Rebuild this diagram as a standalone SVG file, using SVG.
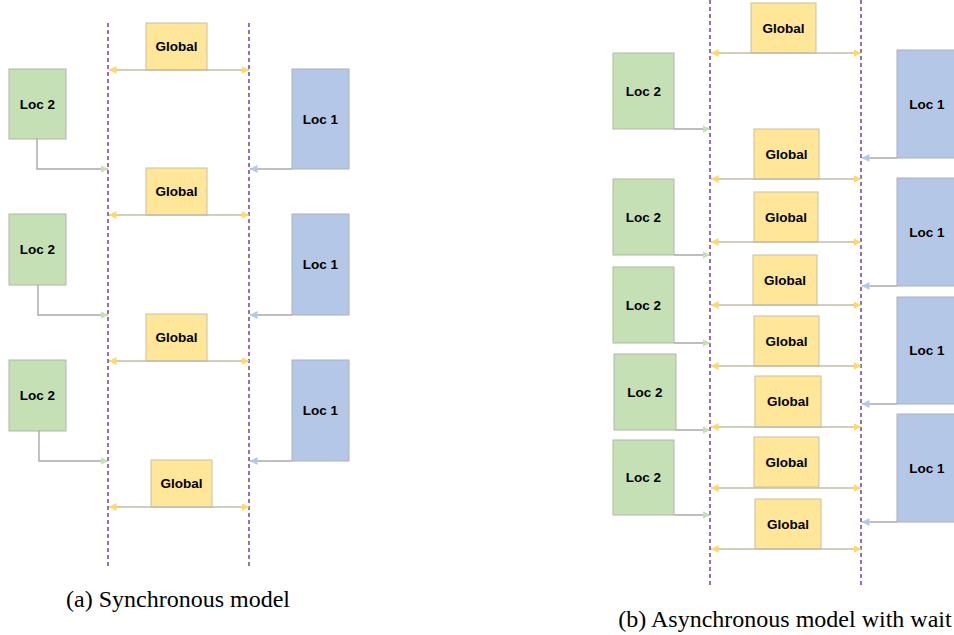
<svg xmlns="http://www.w3.org/2000/svg" width="954" height="635" viewBox="0 0 954 635">
<style>
.g{fill:#ffe699;stroke:#c9c0a0;stroke-width:1}
.l2{fill:#c5e0b4;stroke:#b0b8a8;stroke-width:1}
.l1{fill:#b4c7e7;stroke:#a8b0c0;stroke-width:1}
.t{font-family:"Liberation Sans",Arial,sans-serif;font-weight:bold;font-size:13.5px;fill:#000;text-anchor:middle;dominant-baseline:central}
.dash{stroke:#7a4bb0;stroke-width:1.6;stroke-dasharray:4 3;fill:none}
.ga{stroke:#c4bca4;stroke-width:1.4;fill:none;marker-start:url(#ay);marker-end:url(#ay)}
.ca{stroke:#a8a8a8;stroke-width:1.4;fill:none;marker-end:url(#ag)}
.cb{stroke:#a8aab0;stroke-width:1.4;fill:none;marker-end:url(#ab)}
.cap{font-family:"Liberation Serif","Times New Roman",serif;font-size:24px;fill:#000;text-anchor:middle}
</style>
<defs>
<marker id="ay" markerUnits="userSpaceOnUse" markerWidth="9" markerHeight="9" refX="7.5" refY="4.5" orient="auto-start-reverse"><path d="M0,0.5 L7.5,4.5 L0,8.5 Z" fill="#ffd966"/></marker>
<marker id="ag" markerUnits="userSpaceOnUse" markerWidth="9" markerHeight="9" refX="7.5" refY="4.5" orient="auto"><path d="M0,0.5 L7.5,4.5 L0,8.5 Z" fill="#c5e0b4"/></marker>
<marker id="ab" markerUnits="userSpaceOnUse" markerWidth="9" markerHeight="9" refX="7.5" refY="4.5" orient="auto"><path d="M0,0.5 L7.5,4.5 L0,8.5 Z" fill="#b4c7e7"/></marker>
</defs>
<rect width="954" height="635" fill="#fff"/>

<g id="timelines">
<line class="dash" x1="108" y1="23" x2="108" y2="568"/>
<line class="dash" x1="249" y1="23" x2="249" y2="568"/>
<line class="dash" x1="710" y1="0" x2="710" y2="588"/>
<line class="dash" x1="861" y1="0" x2="861" y2="588"/>
</g>

<g id="a-global-1"><rect class="g" x="146" y="23" width="61" height="47"/><text class="t" x="176.5" y="46.5">Global</text></g>
<g id="a-loc2-1"><rect class="l2" x="9" y="69" width="57" height="70"/><text class="t" x="37.5" y="104">Loc 2</text></g>
<g id="a-loc1-1"><rect class="l1" x="292" y="69" width="57" height="100"/><text class="t" x="320.5" y="119">Loc 1</text></g>
<g id="a-global-2"><rect class="g" x="146" y="168" width="61" height="47"/><text class="t" x="176.5" y="191.5">Global</text></g>
<g id="a-loc2-2"><rect class="l2" x="9" y="214" width="57" height="71"/><text class="t" x="37.5" y="249.5">Loc 2</text></g>
<g id="a-loc1-2"><rect class="l1" x="292" y="214" width="57" height="101"/><text class="t" x="320.5" y="264.5">Loc 1</text></g>
<g id="a-global-3"><rect class="g" x="146" y="314" width="61" height="47"/><text class="t" x="176.5" y="337.5">Global</text></g>
<g id="a-loc2-3"><rect class="l2" x="9" y="360" width="57" height="71"/><text class="t" x="37.5" y="395.5">Loc 2</text></g>
<g id="a-loc1-3"><rect class="l1" x="292" y="360" width="57" height="101"/><text class="t" x="320.5" y="410.5">Loc 1</text></g>
<g id="a-global-4"><rect class="g" x="151" y="460" width="61" height="47"/><text class="t" x="181.5" y="483.5">Global</text></g>

<g id="b-global-1"><rect class="g" x="751" y="3" width="65" height="50"/><text class="t" x="783.5" y="28">Global</text></g>
<g id="b-loc2-1"><rect class="l2" x="613" y="53" width="61" height="76"/><text class="t" x="643.5" y="91">Loc 2</text></g>
<g id="b-loc1-1"><rect class="l1" x="897" y="50" width="60" height="108"/><text class="t" x="927" y="104">Loc 1</text></g>
<g id="b-global-2"><rect class="g" x="754" y="129" width="65" height="50"/><text class="t" x="786.5" y="154">Global</text></g>
<g id="b-loc2-2"><rect class="l2" x="613" y="179" width="61" height="76"/><text class="t" x="643.5" y="217">Loc 2</text></g>
<g id="b-global-3"><rect class="g" x="754" y="192" width="64" height="50"/><text class="t" x="786" y="217">Global</text></g>
<g id="b-loc1-2"><rect class="l1" x="897" y="178" width="60" height="108"/><text class="t" x="927" y="232">Loc 1</text></g>
<g id="b-loc2-3"><rect class="l2" x="613" y="267" width="61" height="76"/><text class="t" x="643.5" y="305">Loc 2</text></g>
<g id="b-global-4"><rect class="g" x="753" y="255" width="64" height="50"/><text class="t" x="785" y="280">Global</text></g>
<g id="b-global-5"><rect class="g" x="754" y="316" width="65" height="50"/><text class="t" x="786.5" y="341">Global</text></g>
<g id="b-loc1-3"><rect class="l1" x="897" y="297" width="60" height="107"/><text class="t" x="927" y="350.5">Loc 1</text></g>
<g id="b-loc2-4"><rect class="l2" x="614" y="354" width="62" height="76"/><text class="t" x="645" y="392">Loc 2</text></g>
<g id="b-global-6"><rect class="g" x="755" y="376" width="66" height="51"/><text class="t" x="788" y="401.5">Global</text></g>
<g id="b-loc1-4"><rect class="l1" x="897" y="414" width="60" height="108"/><text class="t" x="927" y="468">Loc 1</text></g>
<g id="b-loc2-5"><rect class="l2" x="613" y="440" width="61" height="75"/><text class="t" x="643.5" y="477.5">Loc 2</text></g>
<g id="b-global-7"><rect class="g" x="754" y="437" width="65" height="50"/><text class="t" x="786.5" y="462">Global</text></g>
<g id="b-global-8"><rect class="g" x="755" y="499" width="66" height="50"/><text class="t" x="788" y="524">Global</text></g>

<g id="connectors">
<line class="ga" x1="109" y1="70" x2="249" y2="70"/>
<line class="ga" x1="109" y1="215" x2="249" y2="215"/>
<line class="ga" x1="109" y1="361" x2="249" y2="361"/>
<line class="ga" x1="109" y1="507" x2="249" y2="507"/>
<path class="ca" d="M37,139 V169 H108"/>
<path class="ca" d="M38,285 V315 H108"/>
<path class="ca" d="M39,431 V461 H108"/>
<path class="cb" d="M292,169 H250"/>
<path class="cb" d="M292,315 H250"/>
<path class="cb" d="M292,461 H250"/>

<line class="ga" x1="711" y1="53" x2="861" y2="53"/>
<line class="ga" x1="711" y1="179" x2="861" y2="179"/>
<line class="ga" x1="711" y1="242" x2="861" y2="242"/>
<line class="ga" x1="711" y1="305" x2="861" y2="305"/>
<line class="ga" x1="711" y1="366" x2="861" y2="366"/>
<line class="ga" x1="711" y1="427" x2="861" y2="427"/>
<line class="ga" x1="711" y1="488" x2="861" y2="488"/>
<line class="ga" x1="711" y1="549" x2="861" y2="549"/>
<path class="ca" d="M674,129 H710"/>
<path class="ca" d="M674,255 H710"/>
<path class="ca" d="M674,343 H710"/>
<path class="ca" d="M676,430 H710"/>
<path class="ca" d="M674,515 H710"/>
<path class="cb" d="M897,158 H862"/>
<path class="cb" d="M897,286 H862"/>
<path class="cb" d="M897,404 H862"/>
<path class="cb" d="M897,522 H862"/>
</g>

<text class="cap" x="178" y="607">(a) Synchronous model</text>
<text class="cap" x="785" y="627">(b) Asynchronous model with wait</text>
</svg>
